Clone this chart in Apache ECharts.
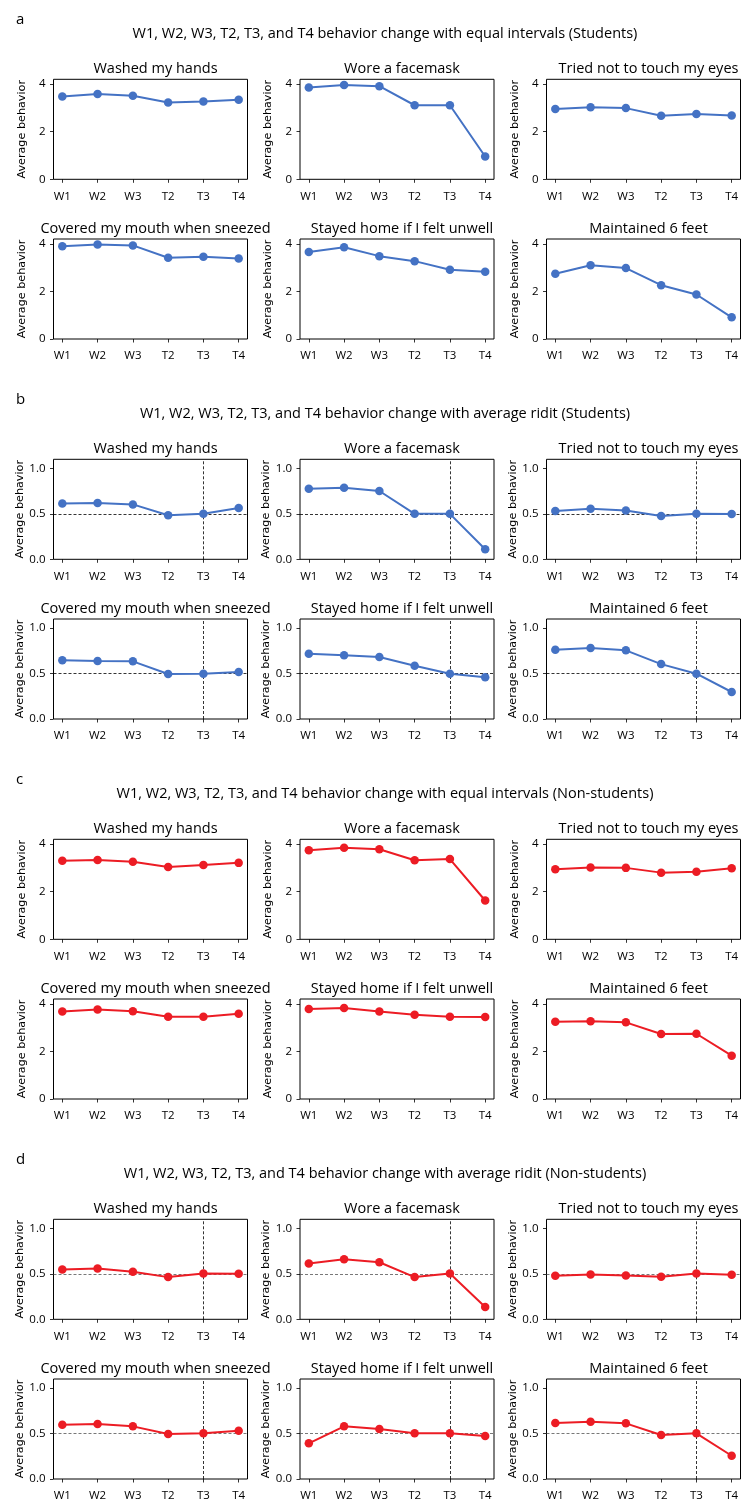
<!DOCTYPE html>
<html>
<head>
<meta charset="utf-8">
<script src="https://cdn.jsdelivr.net/npm/echarts@6/dist/echarts.min.js"></script>
<style>
html,body{margin:0;padding:0;background:#fff;}
#chart{width:743px;height:1502px;}
</style>
</head>
<body>
<div id="chart"></div>
<script>
const categories = ['W1', 'W2', 'W3', 'T2', 'T3', 'T4'];
const behaviors = ['Washed my hands', 'Wore a facemask', 'Tried not to touch my eyes',
  'Covered my mouth when sneezed', 'Stayed home if I felt unwell', 'Maintained 6 feet'];
const sectionLetters = ['a', 'b', 'c', 'd'];
const sectionTitles = [
  'W1, W2, W3, T2, T3, and T4 behavior change with equal intervals (Students)',
  'W1, W2, W3, T2, T3, and T4 behavior change with average ridit (Students)',
  'W1, W2, W3, T2, T3, and T4 behavior change with equal intervals (Non-students)',
  'W1, W2, W3, T2, T3, and T4 behavior change with average ridit (Non-students)'
];
const equalTicks = [0, 2, 4];
const riditTicks = [0, 0.5, 1.0];
const riditReference = 0.5;
const riditRefCategory = 'T3';

// a: Students, equal intervals
const studEqWashed   = [3.48, 3.58, 3.51, 3.23, 3.27, 3.34];
const studEqFacemask = [3.86, 3.96, 3.91, 3.11, 3.11, 0.96];
const studEqEyes     = [2.95, 3.03, 2.99, 2.67, 2.74, 2.68];
const studEqMouth    = [3.90, 3.97, 3.93, 3.41, 3.45, 3.38];
const studEqHome     = [3.65, 3.85, 3.48, 3.27, 2.91, 2.82];
const studEqDistance = [2.74, 3.10, 2.98, 2.26, 1.87, 0.91];

// b: Students, average ridit
const studRidWashed   = [0.615, 0.620, 0.604, 0.484, 0.500, 0.564];
const studRidFacemask = [0.777, 0.788, 0.751, 0.500, 0.500, 0.110];
const studRidEyes     = [0.531, 0.557, 0.538, 0.476, 0.500, 0.498];
const studRidMouth    = [0.645, 0.637, 0.634, 0.495, 0.498, 0.516];
const studRidHome     = [0.718, 0.700, 0.681, 0.586, 0.498, 0.458];
const studRidDistance = [0.762, 0.780, 0.755, 0.604, 0.498, 0.297];

// c: Non-students, equal intervals
const nonEqWashed   = [3.30, 3.33, 3.26, 3.04, 3.12, 3.21];
const nonEqFacemask = [3.74, 3.85, 3.78, 3.32, 3.37, 1.63];
const nonEqEyes     = [2.94, 3.02, 3.00, 2.80, 2.84, 2.98];
const nonEqMouth    = [3.68, 3.76, 3.69, 3.45, 3.45, 3.58];
const nonEqHome     = [3.78, 3.82, 3.68, 3.54, 3.45, 3.44];
const nonEqDistance = [3.24, 3.27, 3.22, 2.73, 2.74, 1.82];

// d: Non-students, average ridit
const nonRidWashed   = [0.547, 0.558, 0.522, 0.464, 0.504, 0.500];
const nonRidFacemask = [0.613, 0.660, 0.628, 0.464, 0.504, 0.135];
const nonRidEyes     = [0.478, 0.493, 0.482, 0.467, 0.504, 0.489];
const nonRidMouth    = [0.597, 0.604, 0.579, 0.495, 0.502, 0.531];
const nonRidHome     = [0.392, 0.579, 0.549, 0.502, 0.502, 0.473];
const nonRidDistance = [0.615, 0.630, 0.612, 0.484, 0.502, 0.256];

const sectionData = [
  [studEqWashed, studEqFacemask, studEqEyes, studEqMouth, studEqHome, studEqDistance],
  [studRidWashed, studRidFacemask, studRidEyes, studRidMouth, studRidHome, studRidDistance],
  [nonEqWashed, nonEqFacemask, nonEqEyes, nonEqMouth, nonEqHome, nonEqDistance],
  [nonRidWashed, nonRidFacemask, nonRidEyes, nonRidMouth, nonRidHome, nonRidDistance]
];
const sectionIsRidit = [false, true, false, true];
const sectionColor = ['#4472C4', '#4472C4', '#EC1C24', '#EC1C24'];

// layout
const colLeft = [53.5, 300, 546.5];
const boxW = 194;
const boxH = 100;
const firstTop = 79.3;
const sectionStep = 380;
const rowStep = 159.7;
const TITLE_FONT = '"Open Sans", "Noto Sans", sans-serif';

const grids = [], xAxes = [], yAxes = [], series = [], titles = [];

sectionTitles.forEach((st, s) => {
  titles.push({
    text: sectionLetters[s], left: 11, top: firstTop + sectionStep * s - 74,
    textStyle: { fontFamily: TITLE_FONT, fontSize: 15, fontWeight: 'normal', color: '#000', lineHeight: 18 }
  });
  titles.push({
    text: st, left: 380, textAlign: 'center', top: firstTop + sectionStep * s - 59,
    textStyle: { fontFamily: TITLE_FONT, fontSize: 14.5, fontWeight: 'normal', color: '#000', lineHeight: 18 }
  });
  behaviors.forEach((b, k) => {
    const r = Math.floor(k / 3), c = k % 3;
    const top = firstTop + sectionStep * s + rowStep * r;
    const idx = grids.length;
    grids.push({ left: colLeft[c], top: top, width: boxW, height: boxH, show: true,
      borderColor: '#000', borderWidth: 1, backgroundColor: 'transparent' });
    titles.push({
      text: b, left: colLeft[c] + boxW / 2, textAlign: 'center', top: top - 24,
      textStyle: { fontFamily: TITLE_FONT, fontSize: 14.5, fontWeight: 'normal', color: '#000', lineHeight: 18 }
    });
    const ridit = sectionIsRidit[s];
    const yTicks = ridit ? riditTicks : equalTicks;
    xAxes.push({
      type: 'value', gridIndex: idx, min: -0.25, max: 5.25,
      axisLine: { show: false, onZero: false }, splitLine: { show: false },
      axisTick: { show: true, length: 3.5, lineStyle: { color: '#000', width: 0.8 }, customValues: categories.map((_, i) => i) },
      axisLabel: { show: true, margin: 11, fontFamily: TITLE_FONT, fontSize: 11.5, color: '#000',
        customValues: categories.map((_, i) => i), formatter: v => categories[Math.round(v)] }
    });
    yAxes.push({
      type: 'value', gridIndex: idx, min: 0, max: ridit ? 1.1 : 4.2,
      name: 'Average behavior', nameLocation: 'middle', nameGap: 26,
      nameTextStyle: { fontFamily: 'DejaVu Sans', fontSize: 11.2, color: '#000' },
      axisLine: { show: false, onZero: false }, splitLine: { show: false },
      axisTick: { show: true, length: 3.5, lineStyle: { color: '#000', width: 0.8 }, customValues: yTicks },
      axisLabel: { show: true, margin: 8, fontFamily: TITLE_FONT, fontSize: 11.5, color: '#000',
        customValues: yTicks, formatter: v => ridit ? v.toFixed(1) : String(v) }
    });
    const vals = sectionData[s][k];
    const ser = {
      type: 'line', xAxisIndex: idx, yAxisIndex: idx,
      data: categories.map((cat, i) => [i, vals[i]]),
      symbol: 'circle', symbolSize: 8.5,
      lineStyle: { color: sectionColor[s], width: 2 },
      itemStyle: { color: sectionColor[s] },
      z: 5, animation: false
    };
    if (ridit) {
      ser.markLine = {
        silent: true, symbol: 'none', animation: false, label: { show: false },
        data: [
          { yAxis: riditReference, lineStyle: { color: s === 3 ? '#555' : '#000', type: [3, 2], width: 0.8 } },
          { xAxis: categories.indexOf(riditRefCategory), lineStyle: { color: '#000', type: [3, 2], width: 0.8 } }
        ]
      };
    }
    series.push(ser);
  });
});

const chart = echarts.init(document.getElementById('chart'), null, { renderer: 'canvas' });
chart.setOption({
  backgroundColor: '#fff',
  animation: false,
  title: titles,
  grid: grids,
  xAxis: xAxes,
  yAxis: yAxes,
  series: series
});
</script>
</body>
</html>
